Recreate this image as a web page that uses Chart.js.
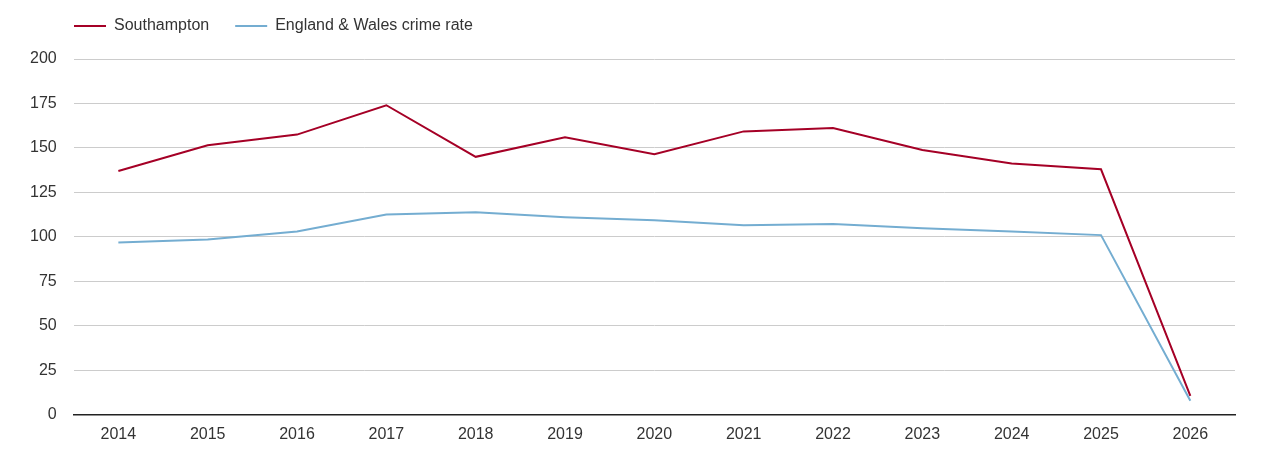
<!DOCTYPE html>
<html>
<head>
<meta charset="utf-8">
<script src="https://cdn.jsdelivr.net/npm/chart.js@4"></script>
<style>
  html, body { margin: 0; padding: 0; background: #fff; }
  #wrap { width: 1270px; height: 450px; position: relative; }
</style>
</head>
<body>
<div id="wrap"><canvas id="myChart"></canvas></div>
<script>
var years = ["2014", "2015", "2016", "2017", "2018", "2019", "2020", "2021", "2022", "2023", "2024", "2025", "2026"];
var southampton = [137, 151.5, 157.5, 174, 145, 156, 146.5, 159.3, 161.2, 148.8, 141.3, 138, 10.7];
var englandWales = [96.9, 98.6, 103.1, 112.6, 113.8, 111, 109.3, 106.6, 107.2, 104.8, 103.1, 101, 7.9];
var yTicks = [0, 25, 50, 75, 100, 125, 150, 175, 200];

var fontFamily = "'Liberation Sans', Arial, sans-serif";

var ctx = document.getElementById("myChart");

// nudge the legend so it lines up with the plot area like the original
var legendShift = {
    id: 'legendShift',
    afterLayout: function(chart){
        chart.legend.left += 35;
        chart.legend.top -= 15;
    }
};

var myChart = new Chart(ctx, {
    type: 'line',
    data: {
        labels: years,
        datasets: [{
            label: 'Southampton',
            data: southampton,
            borderColor: '#a50026',
            backgroundColor: '#a50026',
            borderWidth: 2,
            pointRadius: 0,
            tension: 0
        }, {
            label: 'England & Wales crime rate',
            data: englandWales,
            borderColor: '#74add1',
            backgroundColor: '#74add1',
            borderWidth: 2,
            pointRadius: 0,
            tension: 0
        }]
    },
    options: {
        animation: false,
        responsive: true,
        maintainAspectRatio: false,
        layout: { padding: { left: 13, right: 35, top: 7, bottom: -4 } },
        plugins: {
            tooltip: { enabled: false },
            legend: {
                position: 'top',
                align: 'start',
                labels: {
                    usePointStyle: true,
                    pointStyle: 'line',
                    pointStyleWidth: 32,
                    color: '#333',
                    padding: 26,
                    font: { family: fontFamily, size: 16 }
                }
            }
        },
        scales: {
            x: {
                offset: true,
                grid: { display: false, drawTicks: false },
                border: { display: true, color: '#222', width: 1.5 },
                ticks: {
                    color: '#333',
                    padding: 10,
                    maxRotation: 0,
                    font: { family: fontFamily, size: 16 }
                }
            },
            y: {
                min: 0,
                max: 200,
                afterBuildTicks: function(axis) {
                    axis.ticks = yTicks.map(function(v){ return { value: v }; });
                },
                grid: { color: '#cccccc', drawTicks: false },
                border: { display: false },
                ticks: {
                    color: '#333',
                    padding: 17,
                    font: { family: fontFamily, size: 16 }
                }
            }
        }
    },
    plugins: [legendShift]
});
</script>
</body>
</html>
